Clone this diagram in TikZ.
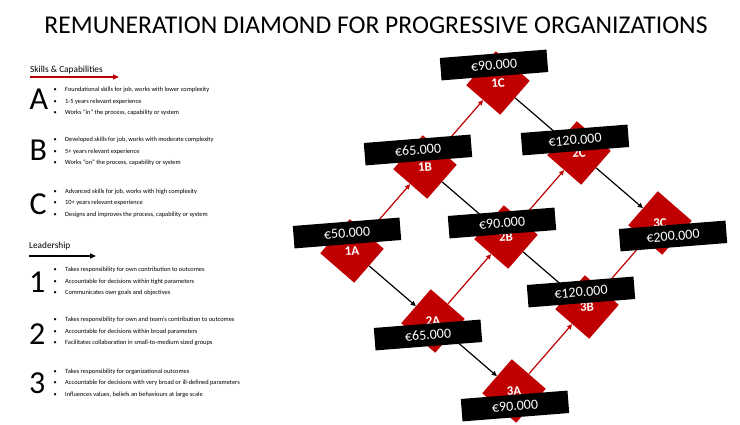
\documentclass[tikz,border=0pt]{standalone}
\usepackage{fontspec}
\setmainfont{Carlito}
\usetikzlibrary{arrows.meta}
\definecolor{dred}{RGB}{192,0,0}
\newcommand{\bitem}[1]{•\hskip 8.4pt #1}
\begin{document}
\begin{tikzpicture}[x=1pt,y=-1pt,
  dia/.style={fill=dred, minimum size=45pt, inner sep=0pt, rotate=49, shape=rectangle},
  dlab/.style={text=white, font=\fontsize{13}{13}\selectfont\bfseries, rotate=4, inner sep=0pt},
  pay/.style={fill=black, text=white, minimum width=107pt, minimum height=22.5pt, inner sep=0pt, rotate=4.5, font=\fontsize{14}{14}\selectfont},
  uparr/.style={dred, line width=1.2pt, -{Triangle[length=5pt,width=4.5pt]}},
  dnarr/.style={black, line width=1.2pt, -{Triangle[length=5pt,width=4.5pt]}},
  big/.style={font=\fontsize{32}{32}\selectfont, inner sep=0pt, anchor=west},
  bl/.style={font=\fontsize{6.4}{7}\selectfont, inner sep=0pt, anchor=west, text height=4.4pt, text depth=1.4pt},
  head/.style={font=\fontsize{9.3}{9.3}\selectfont, inner sep=0pt, anchor=base west},
]
\useasboundingbox (0,0) rectangle (740,425);

% title
\node[font=\fontsize{25.6}{26}\selectfont, inner sep=0pt] (title) at (376,25) {REMUNERATION DIAMOND FOR PROGRESSIVE ORGANIZATIONS};

% ---- left panel ----
\node[head] (skills) at (30,73) {Skills \& Capabilities};
\coordinate (s0) at (30,77);
\coordinate (s1) at (119,77);
\draw[dred, line width=1.2pt, -{Triangle[length=6pt,width=5pt]}] (s0) -- (s1);

\node[big] (LA) at (29.5,99) {A};
\node[bl] (tA1) at (53.4,90) {\bitem{Foundational skills for job, works with lower complexity}};
\node[bl] (tA2) at (53.4,102) {\bitem{1-5 years relevant experience}};
\node[bl] (tA3) at (53.4,113) {\bitem{Works “in” the process, capability or system}};

\node[big] (LB) at (29.5,150) {B};
\node[bl] (tB1) at (53.4,140) {\bitem{Developed skills for job, works with moderate complexity}};
\node[bl] (tB2) at (53.4,152) {\bitem{5+ years relevant experience}};
\node[bl] (tB3) at (53.4,163) {\bitem{Works “on” the process, capability or system}};

\node[big] (LC) at (29.5,204) {C};
\node[bl] (tC1) at (53.4,192) {\bitem{Advanced skills for job, works with high complexity}};
\node[bl] (tC2) at (53.4,203) {\bitem{10+ years relevant experience}};
\node[bl] (tC3) at (53.4,215) {\bitem{Designs and improves the process, capability or system}};

\node[head] (lead) at (29,249) {Leadership};
\coordinate (l0) at (29,256);
\coordinate (l1) at (96,256);
\draw[black, line width=1.2pt, -{Triangle[length=6pt,width=5pt]}] (l0) -- (l1);

\node[big] (L1) at (29,282) {1};
\node[bl] (t11) at (53.4,270) {\bitem{Takes responsibility for own contribution to outcomes}};
\node[bl] (t12) at (53.4,282) {\bitem{Accountable for decisions within tight parameters}};
\node[bl] (t13) at (53.4,293) {\bitem{Communicates own goals and objectives}};

\node[big] (L2) at (29,334) {2};
\node[bl] (t21) at (53.4,320) {\bitem{Takes responsibility for own and team’s contribution to outcomes}};
\node[bl] (t22) at (53.4,332) {\bitem{Accountable for decisions within broad parameters}};
\node[bl] (t23) at (53.4,343) {\bitem{Facilitates collaboration in small-to-medium sized groups}};

\node[big] (L3) at (29,383) {3};
\node[bl] (t31) at (53.4,372) {\bitem{Takes responsibility for organizational outcomes}};
\node[bl] (t32) at (53.4,383) {\bitem{Accountable for decisions with very broad or ill-defined parameters}};
\node[bl] (t33) at (53.4,395) {\bitem{Influences values, beliefs an behaviours at large scale}};

% ---- diamond ----
\node[dia] (d1A) at (352,251) {};
\node[dia] (d1B) at (425,167) {};
\node[dia] (d1C) at (498,83) {};
\node[dia] (d2A) at (433,321) {};
\node[dia] (d2B) at (506,237) {};
\node[dia] (d2C) at (579,153) {};
\node[dia] (d3A) at (514,391) {};
\node[dia] (d3B) at (587,307) {};
\node[dia] (d3C) at (660,223) {};

\node[dlab] (n1A) at (d1A) {1A};
\node[dlab] (n1B) at (d1B) {1B};
\node[dlab] (n1C) at (d1C) {1C};
\node[dlab] (n2A) at (d2A) {2A};
\node[dlab] (n2B) at (d2B) {2B};
\node[dlab] (n2C) at (d2C) {2C};
\node[dlab] (n3A) at (d3A) {3A};
\node[dlab] (n3B) at (d3B) {3B};
\node[dlab] (n3C) at (d3C) {3C};

% red arrows (skills)
\draw[uparr] (d1A.east) -- (d1B.west);
\draw[uparr] (d1B.east) -- (d1C.west);
\draw[uparr] (d2A.east) -- (d2B.west);
\draw[uparr] (d2B.east) -- (d2C.west);
\draw[uparr] (d3A.east) -- (d3B.west);
\draw[uparr] (d3B.east) -- (d3C.west);
% black arrows (leadership)
\draw[dnarr] (d1A.south) -- (d2A.north);
\draw[dnarr] (d2A.south) -- (d3A.north);
\draw[dnarr] (d1B.south) -- (d2B.north);
\draw[dnarr] (d2B.south) -- (d3B.north);
\draw[dnarr] (d1C.south) -- (d2C.north);
\draw[dnarr] (d2C.south) -- (d3C.north);

% pay boxes
\node[pay] (p1C) at (494,65) {€90.000};
\node[pay] (p1B) at (418,150) {€65.000};
\node[pay] (p1A) at (347,233) {€50.000};
\node[pay] (p2B) at (502,223) {€90.000};
\node[pay] (p2C) at (575,140) {€120.000};
\node[pay] (p2A) at (428,335) {€65.000};
\node[pay] (p3A) at (515,406) {€90.000};
\node[pay] (p3B) at (581,292) {€120.000};
\node[pay] (p3C) at (673,236) {€200.000};
\end{tikzpicture}
\end{document}
